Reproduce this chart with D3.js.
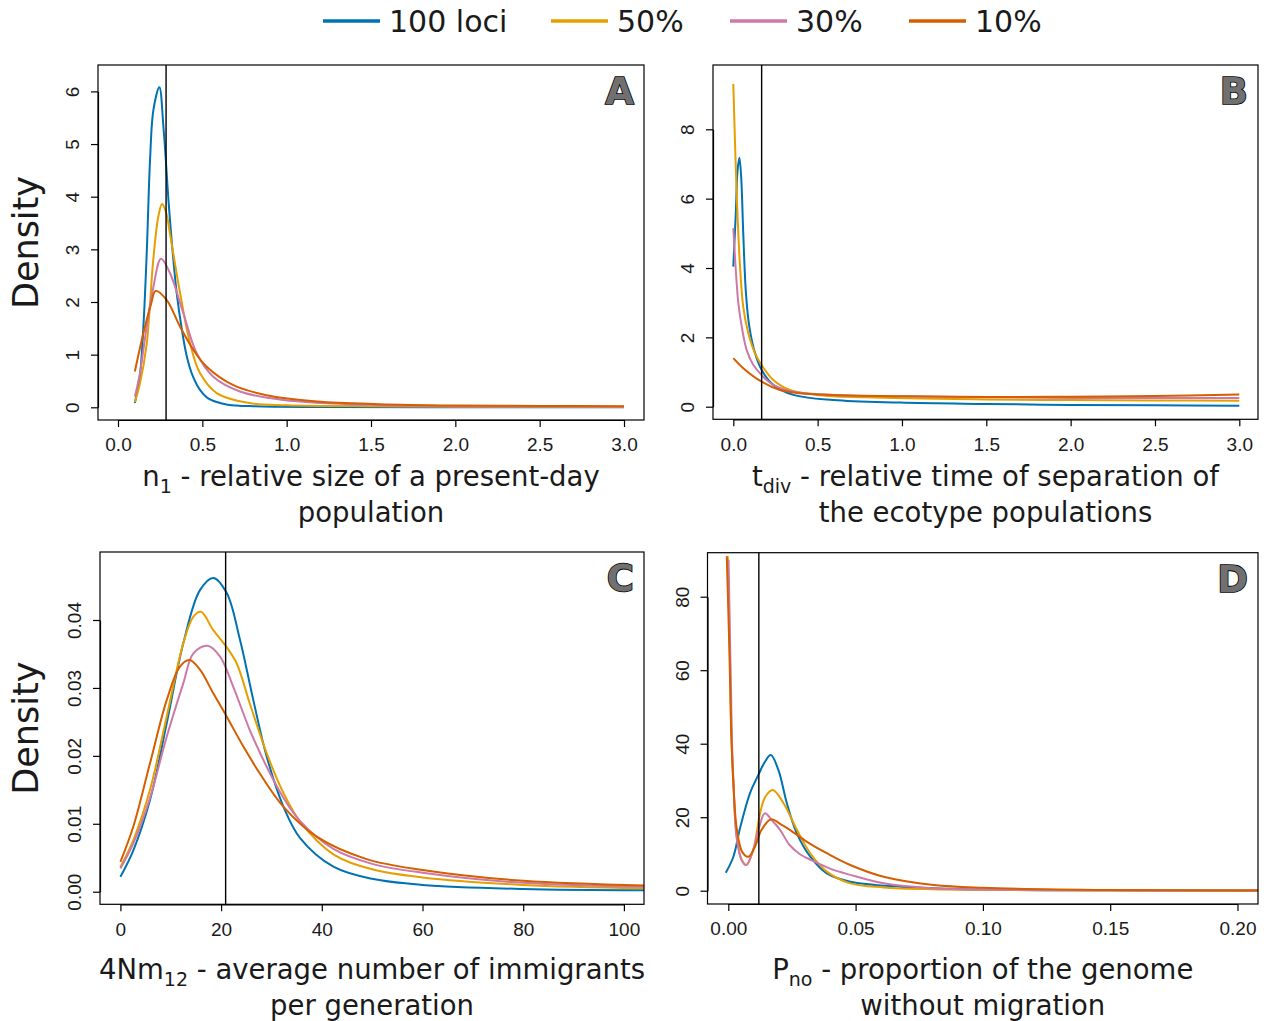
<!DOCTYPE html>
<html>
<head>
<meta charset="utf-8">
<script src="https://cdn.jsdelivr.net/npm/d3@7"></script>
<style>
  body { margin: 0; background: #fff; }
  svg { display: block; }
</style>
</head>
<body>
<svg id="chart" width="1266" height="1021"></svg>
<script>
// ---- series ----
const seriesNames  = ["100 loci", "50%", "30%", "10%"];
const seriesColors = ["#0072B2", "#E69F00", "#CC79A7", "#D55E00"];

// ---- n1: relative size of a present-day population ----
const n1Loci100 = [[0.1,0.08],[0.13,0.6],[0.15,1.5],[0.17,2.9],[0.19,4.7],[0.21,5.65],[0.245,6.08],[0.27,5.3],[0.3,3.9],[0.32,3.1],[0.348,2.17],[0.38,1.45],[0.407,0.98],[0.44,0.62],[0.486,0.33],[0.53,0.18],[0.585,0.1],[0.65,0.05],[0.8,0.02],[1.2,0.005],[2.0,0.002],[3.0,0.001]];
const n1Pct50   = [[0.1,0.1],[0.13,0.45],[0.17,1.2],[0.209,2.8],[0.239,3.62],[0.261,3.86],[0.285,3.7],[0.308,3.3],[0.368,2.17],[0.427,1.22],[0.486,0.65],[0.585,0.27],[0.78,0.08],[1.0,0.04],[1.5,0.02],[2.0,0.012],[3.0,0.008]];
const n1Pct30   = [[0.1,0.2],[0.13,0.65],[0.17,1.53],[0.21,2.29],[0.255,2.82],[0.308,2.55],[0.387,1.79],[0.466,1.03],[0.565,0.58],[0.723,0.3],[0.98,0.14],[1.55,0.04],[2.0,0.02],[3.0,0.01]];
const n1Pct10   = [[0.1,0.68],[0.15,1.4],[0.195,1.95],[0.223,2.21],[0.288,2.04],[0.368,1.53],[0.447,1.09],[0.526,0.77],[0.684,0.42],[0.88,0.23],[1.18,0.11],[1.55,0.06],[2.0,0.035],[2.5,0.025],[3.0,0.02]];
const n1True = 0.285;

// ---- tdiv: relative time of separation ----
const tdivLoci100 = [[0,4.04],[0.015,5.6],[0.025,6.8],[0.036,7.18],[0.047,6.6],[0.059,5.0],[0.075,3.27],[0.095,2.31],[0.129,1.54],[0.168,1.06],[0.237,0.63],[0.356,0.34],[0.593,0.19],[0.988,0.12],[1.5,0.08],[2.0,0.05],[2.5,0.04],[3.0,0.03]];
const tdivPct50   = [[0,9.31],[0.02,6.15],[0.04,4.04],[0.059,2.88],[0.089,2.12],[0.129,1.54],[0.168,1.2],[0.237,0.77],[0.336,0.48],[0.494,0.34],[0.79,0.27],[1.5,0.21],[2.0,0.19],[2.5,0.18],[3.0,0.17]];
const tdivPct30   = [[0,5.15],[0.016,3.85],[0.03,2.98],[0.05,2.31],[0.079,1.64],[0.119,1.2],[0.168,0.91],[0.237,0.63],[0.356,0.43],[0.593,0.34],[1.0,0.3],[1.5,0.27],[2.0,0.25],[2.5,0.25],[3.0,0.25]];
const tdivPct10   = [[0,1.4],[0.059,1.11],[0.168,0.72],[0.277,0.48],[0.395,0.39],[0.593,0.34],[1.0,0.3],[1.5,0.28],[2.0,0.29],[2.5,0.31],[3.0,0.35]];
const tdivTrue = 0.168;

// ---- 4Nm12: average number of immigrants per generation ----
const nmLoci100 = [[0,0.0022],[2.57,0.0061],[5.88,0.0135],[9.2,0.0248],[12.5,0.0366],[15.8,0.0444],[18.45,0.0462],[21.1,0.044],[23.75,0.0371],[26.4,0.0282],[29.05,0.0199],[32.4,0.0125],[35.7,0.0079],[42.3,0.0037],[50,0.0019],[60,0.001],[80,0.0004],[105,0.0002]];
const nmPct50   = [[0,0.0036],[2.57,0.0076],[5.88,0.015],[9.2,0.0258],[12.5,0.0366],[14.5,0.0405],[16.0,0.0412],[18.45,0.0385],[20.8,0.0363],[23.1,0.0336],[25.7,0.0277],[29.05,0.0204],[32.4,0.0145],[35.7,0.0103],[42.3,0.0055],[50,0.0033],[60,0.0021],[80,0.001],[105,0.0005]];
const nmPct30   = [[0,0.0034],[2.57,0.0071],[5.88,0.0138],[9.2,0.0228],[12.5,0.0307],[14.5,0.0351],[17.3,0.0362],[19.8,0.0346],[22.4,0.0302],[25.7,0.0238],[29.05,0.0184],[32.4,0.0138],[35.7,0.0104],[42.3,0.0063],[50,0.0041],[60,0.0028],[80,0.0013],[105,0.0007]];
const nmPct10   = [[0,0.0044],[2.57,0.0096],[5.88,0.0189],[9.2,0.0282],[11.8,0.0331],[13.7,0.0341],[15.8,0.0327],[18.45,0.0292],[21.1,0.0258],[24.4,0.0214],[27.7,0.0174],[32.4,0.0125],[39,0.0081],[48.9,0.0048],[60,0.0032],[80,0.0016],[105,0.0009]];
const nmTrue = 20.9;

// ---- Pno: proportion of the genome without migration ----
const pnoLoci100 = [[-0.001,4.9],[0.002,9.25],[0.0046,17.0],[0.0085,26.5],[0.0118,31.5],[0.0144,35.1],[0.0167,36.9],[0.0197,32.8],[0.023,23.8],[0.0269,15.6],[0.0322,9.25],[0.0387,4.7],[0.0479,2.45],[0.0676,1.1],[0.1,0.3],[0.15,0.1],[0.21,0.05]];
const pnoPct50   = [[-0.0002,91],[0.0006,65.5],[0.0012,42.8],[0.002,29.2],[0.0033,14.7],[0.0053,8.35],[0.0072,7.0],[0.0098,11.1],[0.0125,21.1],[0.0145,25.5],[0.0175,27.4],[0.0217,23.8],[0.027,16.5],[0.0322,10.2],[0.0387,5.2],[0.0479,2.0],[0.061,0.9],[0.08,0.4],[0.12,0.15],[0.21,0.05]];
const pnoPct30   = [[0.0001,90],[0.0008,64],[0.0014,42],[0.0021,28.5],[0.0033,14.3],[0.0053,8.2],[0.007,7.0],[0.0095,10.5],[0.012,17],[0.0144,21.1],[0.0171,19.2],[0.0204,16.5],[0.024,12.5],[0.028,10.0],[0.033,8.2],[0.04,6.0],[0.048,4.3],[0.061,2.0],[0.08,0.7],[0.12,0.2],[0.21,0.05]];
const pnoPct10   = [[-0.0006,91],[0.0004,66],[0.0011,44],[0.0019,30.5],[0.0033,17],[0.0055,10.5],[0.0079,9.25],[0.0105,12],[0.013,16.5],[0.0167,19.4],[0.021,17.9],[0.0243,16.5],[0.0309,13.3],[0.0387,10.2],[0.0479,7.0],[0.061,3.8],[0.0807,1.55],[0.1,0.8],[0.15,0.2],[0.21,0.06]];
const pnoTrue = 0.012;

// ---- tick values ----
const ticksX_n1   = [0, 0.5, 1, 1.5, 2, 2.5, 3];
const ticksY_n1   = [0, 1, 2, 3, 4, 5, 6];
const ticksX_tdiv = [0, 0.5, 1, 1.5, 2, 2.5, 3];
const ticksY_tdiv = [0, 2, 4, 6, 8];
const ticksX_nm   = [0, 20, 40, 60, 80, 100];
const ticksY_nm   = [0, 0.01, 0.02, 0.03, 0.04];
const ticksX_pno  = [0, 0.05, 0.1, 0.15, 0.2];
const ticksY_pno  = [0, 20, 40, 60, 80];

// ---- panel layout ----
const panels = [
  { letter: "A", box: [98, 65, 644, 420],
    x: [[0, 3], [118, 624]], y: [[0, 6], [407.3, 91.4]],
    xt: ticksX_n1, yt: ticksY_n1, fx: d3.format(".1f"), fy: d3.format("d"),
    series: [n1Loci100, n1Pct50, n1Pct30, n1Pct10], truth: n1True,
    title: [[["n"], ["1", 1], [" - relative size of a present-day"]], [["population"]]],
    titleY: [486, 522], density: true },
  { letter: "B", box: [713, 65, 1258, 419.3],
    x: [[0, 3], [733.3, 1239.3]], y: [[0, 8], [406.7, 129.3]],
    xt: ticksX_tdiv, yt: ticksY_tdiv, fx: d3.format(".1f"), fy: d3.format("d"),
    series: [tdivLoci100, tdivPct50, tdivPct30, tdivPct10], truth: tdivTrue,
    title: [[["t"], ["div", 1], [" - relative time of separation of"]], [["the ecotype populations"]]],
    titleY: [486, 522], density: false },
  { letter: "C", box: [100, 552, 644, 904.3],
    x: [[0, 100], [120.4, 623.9]], y: [[0, 0.04], [891.7, 620]],
    xt: ticksX_nm, yt: ticksY_nm, fx: d3.format("d"), fy: d3.format(".2f"),
    series: [nmLoci100, nmPct50, nmPct30, nmPct10], truth: nmTrue,
    title: [[["4Nm"], ["12", 1], [" - average number of immigrants"]], [["per generation"]]],
    titleY: [979, 1015], density: true },
  { letter: "D", box: [707.5, 552.7, 1258, 904],
    x: [[0, 0.2], [728.3, 1237.5]], y: [[0, 80], [890.7, 596.7]],
    xt: ticksX_pno, yt: ticksY_pno, fx: d3.format(".2f"), fy: d3.format("d"),
    series: [pnoLoci100, pnoPct50, pnoPct30, pnoPct10], truth: pnoTrue,
    title: [[["P"], ["no", 1], [" - proportion of the genome"]], [["without migration"]]],
    titleY: [979, 1015], density: false }
];

const svg = d3.select("#chart");
const ink = "#1a1a1a";
const tickFont = "'Liberation Sans', Arial, sans-serif";
const labelFont = "'DejaVu Sans', sans-serif";

panels.forEach((p, i) => {
  const [x0, y0, x1, y1] = p.box;
  const xs = d3.scaleLinear().domain(p.x[0]).range(p.x[1]);
  const ys = d3.scaleLinear().domain(p.y[0]).range(p.y[1]);
  const g = svg.append("g");

  const clipId = "clip" + i;
  g.append("clipPath").attr("id", clipId)
    .append("rect").attr("x", x0).attr("y", y0).attr("width", x1 - x0).attr("height", y1 - y0);

  // smooth density curves
  const line = d3.line().x(d => xs(d[0])).y(d => ys(d[1])).curve(d3.curveCatmullRom.alpha(0.5));
  const curves = g.append("g").attr("clip-path", `url(#${clipId})`);
  p.series.forEach((s, k) => {
    curves.append("path").datum(s).attr("d", line)
      .attr("fill", "none").attr("stroke", seriesColors[k])
      .attr("stroke-width", 2).attr("stroke-linejoin", "round");
  });

  // reference value
  g.append("line")
    .attr("x1", xs(p.truth)).attr("x2", xs(p.truth))
    .attr("y1", y0).attr("y2", y1)
    .attr("stroke", "#000").attr("stroke-width", 1.4);

  // frame
  g.append("rect").attr("x", x0).attr("y", y0).attr("width", x1 - x0).attr("height", y1 - y0)
    .attr("fill", "none").attr("stroke", "#000").attr("stroke-width", 1.2);

  // x axis
  const xa = g.append("g").attr("transform", `translate(0,${y1})`)
    .call(d3.axisBottom(xs).tickValues(p.xt).tickFormat(p.fx).tickSize(7).tickSizeOuter(0).tickPadding(11));
  xa.select(".domain").attr("stroke", "#000").attr("stroke-width", 1.2);
  xa.selectAll(".tick line").attr("stroke", "#000").attr("stroke-width", 1.2);
  xa.selectAll("text").attr("font-family", tickFont).attr("font-size", 19).attr("fill", ink);

  // y axis with labels parallel to the axis
  const ya = g.append("g").attr("transform", `translate(${x0},0)`)
    .call(d3.axisLeft(ys).tickValues(p.yt).tickFormat(p.fy).tickSize(7).tickSizeOuter(0));
  ya.select(".domain").attr("stroke", "#000").attr("stroke-width", 1.2);
  ya.selectAll(".tick line").attr("stroke", "#000").attr("stroke-width", 1.2);
  ya.selectAll("text")
    .attr("x", null).attr("dy", null)
    .attr("transform", "translate(-19,0) rotate(-90)")
    .attr("text-anchor", "middle")
    .attr("font-family", tickFont).attr("font-size", 19).attr("fill", ink);

  // axis title, two lines, with subscripts
  const cx = (x0 + x1) / 2;
  p.title.forEach((parts, li) => {
    const t = g.append("text").attr("x", cx).attr("y", p.titleY[li])
      .attr("text-anchor", "middle").attr("font-family", labelFont)
      .attr("font-size", 27.5).attr("fill", ink);
    let shifted = false;
    parts.forEach(part => {
      const sp = t.append("tspan").text(part[0]);
      if (part[1]) { sp.attr("font-size", 19).attr("dy", 7); shifted = true; }
      else if (shifted) { sp.attr("dy", -7); shifted = false; }
    });
  });

  // panel letter
  g.append("text").attr("x", x1 - 10).attr("y", y0 + 39)
    .attr("text-anchor", "end").attr("font-family", labelFont)
    .attr("font-weight", "bold").attr("font-size", 37)
    .attr("fill", "#707070").attr("stroke", "#000").attr("stroke-width", 1.6)
    .attr("paint-order", "stroke")
    .text(p.letter);

  if (p.density) {
    g.append("text")
      .attr("transform", `translate(38,${(y0 + y1) / 2}) rotate(-90)`)
      .attr("text-anchor", "middle").attr("font-family", labelFont)
      .attr("font-size", 35).attr("fill", ink).text("Density");
  }
});

// legend
const legendX = [323, 551, 730, 909];
const leg = svg.append("g");
seriesNames.forEach((name, k) => {
  leg.append("line").attr("x1", legendX[k]).attr("x2", legendX[k] + 57)
    .attr("y1", 21).attr("y2", 21)
    .attr("stroke", seriesColors[k]).attr("stroke-width", 3.5);
  leg.append("text").attr("x", legendX[k] + 66).attr("y", 32)
    .attr("font-family", labelFont).attr("font-size", 30).attr("fill", ink)
    .text(name);
});
</script>
</body>
</html>
